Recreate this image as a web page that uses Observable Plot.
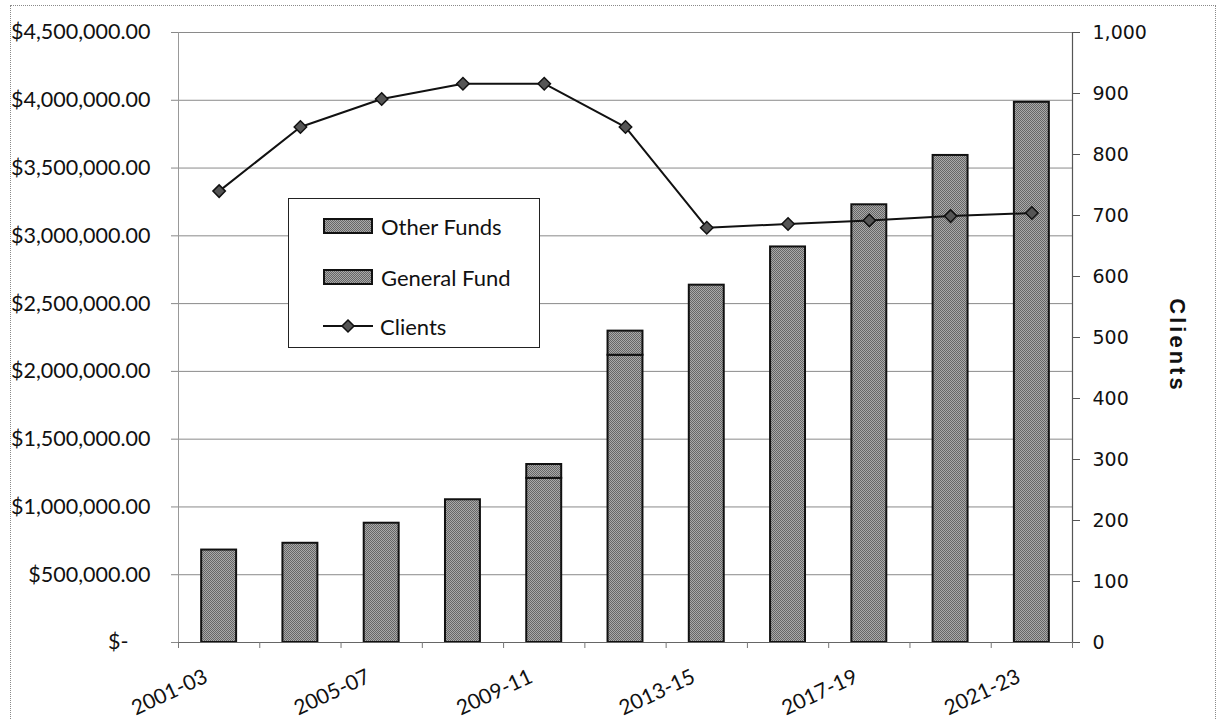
<!DOCTYPE html>
<html>
<head>
<meta charset="utf-8">
<script src="https://cdn.jsdelivr.net/npm/d3@7"></script>
<script src="https://cdn.jsdelivr.net/npm/@observablehq/plot@0.6"></script>
<style>
  html, body { margin: 0; padding: 0; background: #fff; }
  #wrap { position: relative; width: 1217px; height: 719px; overflow: hidden; }
  #border { position: absolute; left: 10px; top: 5px; width: 1206px; height: 730px;
            border: 1px dotted #8a8a8a; box-sizing: border-box; pointer-events: none; }
  #legend { position: absolute; left: 288px; top: 198px; width: 252px; height: 150px;
            border: 1.5px solid #222; background: #fff; box-sizing: border-box;
            font-family: Lato, "Open Sans", sans-serif; font-size: 22px; color: #111; }
  .row { position: absolute; left: 34px; height: 26px; display: flex; align-items: center; }
  .swatch { width: 46px; height: 12px; border: 2px solid #111; margin-right: 8px;
            background: repeating-conic-gradient(#666 0 25%, #a9a9a9 0 50%) 0 0 / 2px 2px; }
  .row svg { margin-right: 7px; }
</style>
</head>
<body>
<div id="wrap">
  <div id="chart"></div>
  <div id="border"></div>
  <div id="legend">
    <div class="row" style="top:14px"><div class="swatch"></div><span>Other Funds</span></div>
    <div class="row" style="top:65px"><div class="swatch"></div><span>General Fund</span></div>
    <div class="row" style="top:114px">
      <svg width="50" height="16" viewBox="0 0 50 16">
        <line x1="0" y1="8" x2="50" y2="8" stroke="#111" stroke-width="2"></line>
        <path d="M25,2 L31,8 L25,14 L19,8 Z" fill="#555" stroke="#111" stroke-width="1.5"></path>
      </svg><span>Clients</span>
    </div>
  </div>
</div>
<script>
// Biennial funding (dollars) and clients served
const periods = ["2001-03", "2003-05", "2005-07", "2007-09", "2009-11", "2011-13",
                 "2013-15", "2015-17", "2017-19", "2019-21", "2021-23"];
const generalFund = [682000, 732000, 880000, 1053000, 1211000, 2119000,
                     2636000, 2918000, 3229000, 3593000, 3985000];
const otherFunds = [0, 0, 0, 0, 102000, 178000, 0, 0, 0, 0, 0];
const clients = [740, 845, 891, 916, 916, 845, 680, 686, 692, 699, 704];
const xLabels = ["2001-03", "2005-07", "2009-11", "2013-15", "2017-19", "2021-23"];
const dollarTicks = [0, 500000, 1000000, 1500000, 2000000, 2500000, 3000000, 3500000, 4000000, 4500000];
const clientTicks = [0, 100, 200, 300, 400, 500, 600, 700, 800, 900, 1000];

const W = 1217, H = 719, ML = 178, MR = 145, MT = 32, MB = 77;
const step = (W - ML - MR) / periods.length;
// the clients axis (0–1,000) shares the frame with the dollar axis (0–4.5M)
const perClient = 4500000 / 1000;

const fundRows = periods.flatMap((p, i) => [
  {period: p, fund: "General Fund", amount: generalFund[i]},
  {period: p, fund: "Other Funds", amount: otherFunds[i]}
]).filter(d => d.amount > 0);
const clientRows = periods.map((p, i) => ({period: p, clients: clients[i]}));

const sans = "Lato, 'Open Sans', sans-serif";

const chart = Plot.plot({
  width: W, height: H,
  marginLeft: ML, marginRight: MR, marginTop: MT, marginBottom: MB,
  style: {background: "transparent", color: "#111"},
  x: {type: "band", domain: periods, paddingInner: 0.57, paddingOuter: 0.285, round: false},
  y: {domain: [0, 4500000]},
  marks: [
    Plot.gridY({ticks: dollarTicks, stroke: "#8a8a8a", strokeOpacity: 1, strokeWidth: 1}),
    Plot.ruleX([periods[0]], {dx: -step / 2, stroke: "#999", strokeWidth: 1}),
    Plot.barY(fundRows, {x: "period", y: "amount", fill: "url(#stipple)", stroke: "#111", strokeWidth: 2}),
    Plot.ruleX([periods[periods.length - 1]], {dx: step / 2, stroke: "#555", strokeWidth: 1.2}),
    Plot.ruleY([0], {stroke: "#666", strokeWidth: 1.2}),
    Plot.line(clientRows, {x: "period", y: d => d.clients * perClient, stroke: "#111", strokeWidth: 2}),
    Plot.dot(clientRows, {x: "period", y: d => d.clients * perClient, symbol: "diamond2", r: 5.6,
                          fill: "#555", stroke: "#111", strokeWidth: 1.5}),
    // left dollar axis
    Plot.axisY({anchor: "left", ticks: dollarTicks.filter(d => d > 0), tickFormat: d3.format("$,.2f"),
                tickSize: 7, tickPadding: 21, stroke: "#888", fill: "#111", fontSize: 21.5,
                fontFamily: sans, label: null}),
    Plot.axisY({anchor: "left", ticks: [0], tickFormat: () => "$-",
                tickSize: 7, tickPadding: 43, stroke: "#888", fill: "#111", fontSize: 21.5,
                fontFamily: sans, label: null}),
    // right clients axis
    Plot.axisY({anchor: "right", ticks: clientTicks.map(c => c * perClient),
                tickFormat: d => d3.format(",")(Math.round(d / perClient)),
                tickSize: 7, tickPadding: 13, stroke: "#555", fill: "#111", fontSize: 19,
                fontFamily: "'DejaVu Sans', sans-serif", label: null}),
    // category boundary ticks
    Plot.axisX({ticks: periods, tickFormat: () => "", tickSize: 6, dx: -step / 2, stroke: "#777", label: null}),
    Plot.axisX({ticks: [periods[periods.length - 1]], tickFormat: () => "", tickSize: 6, dx: step / 2,
                stroke: "#777", label: null}),
    // slanted period labels
    Plot.text(xLabels, {x: d => d, text: d => d, frameAnchor: "bottom", dx: -step / 2 - 9, dy: 50,
                        rotate: -25, textAnchor: "middle", lineAnchor: "middle",
                        fontSize: 21, fontFamily: sans, fill: "#111"}),
    // right axis title
    Plot.text(["Clients"], {text: d => d, frameAnchor: "right", dx: 105, dy: 8, rotate: 90,
                            textAnchor: "middle", lineAnchor: "middle",
                            fontSize: 22, fontWeight: "bold", fontFamily: "'Liberation Sans', Arial, sans-serif",
                            fill: "#111"})
  ]
});

// fine stipple used as the bar fill
const defs = d3.select(chart).insert("defs", ":first-child");
const pattern = defs.append("pattern")
  .attr("id", "stipple").attr("patternUnits", "userSpaceOnUse")
  .attr("width", 2).attr("height", 2);
pattern.append("rect").attr("width", 2).attr("height", 2).attr("fill", "#a9a9a9");
pattern.append("rect").attr("width", 1).attr("height", 1).attr("fill", "#666");
pattern.append("rect").attr("x", 1).attr("y", 1).attr("width", 1).attr("height", 1).attr("fill", "#666");

d3.select(chart).selectAll("text")
  .filter(function () { return this.textContent === "Clients"; })
  .attr("letter-spacing", "3px");

document.getElementById("chart").append(chart);
</script>
</body>
</html>
